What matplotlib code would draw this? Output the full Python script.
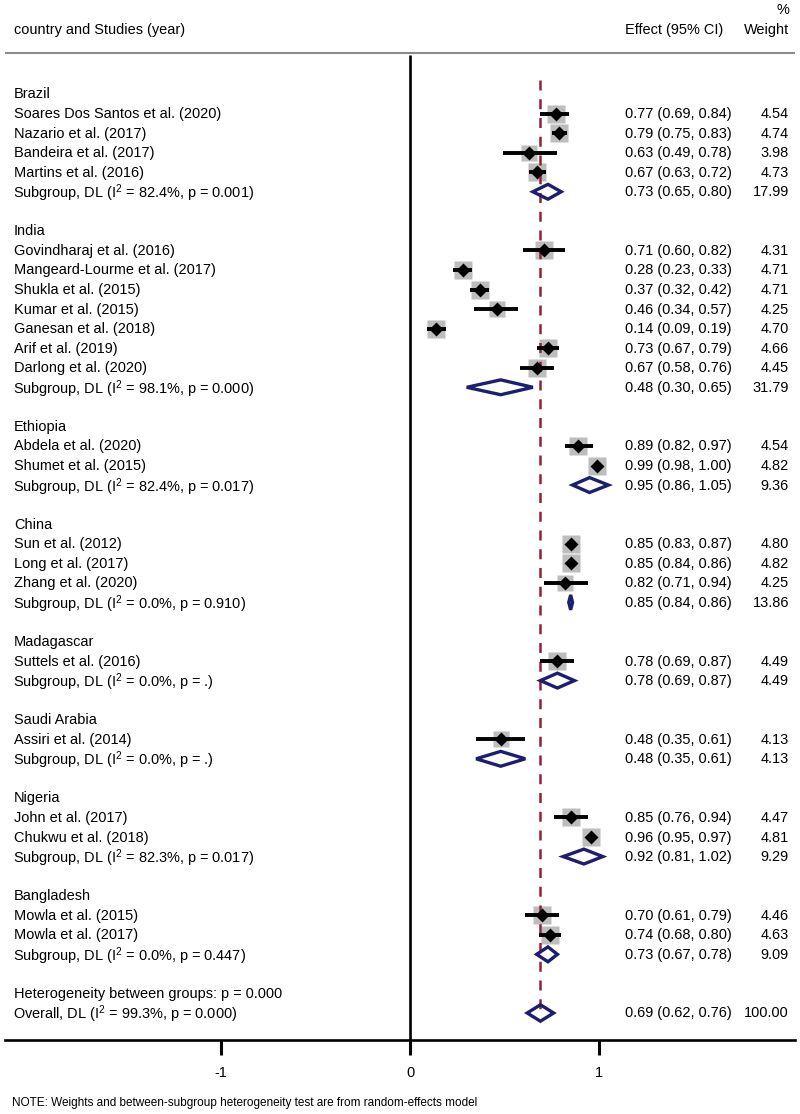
import numpy as np
import matplotlib
matplotlib.use("Agg")
import matplotlib.pyplot as plt

plt.rcParams['font.family'] = ['Liberation Sans', 'DejaVu Sans']
plt.rcParams['mathtext.fontset'] = 'custom'
plt.rcParams['mathtext.rm'] = 'Liberation Sans'
plt.rcParams['mathtext.it'] = 'Liberation Sans'

# ---- data ----
group_names = ["Brazil", "India", "Ethiopia", "China", "Madagascar",
               "Saudi Arabia", "Nigeria", "Bangladesh"]

study_names = [
    ["Soares Dos Santos et al. (2020)", "Nazario et al. (2017)",
     "Bandeira et al. (2017)", "Martins et al. (2016)"],
    ["Govindharaj et al. (2016)", "Mangeard-Lourme et al. (2017)",
     "Shukla et al. (2015)", "Kumar et al. (2015)", "Ganesan et al. (2018)",
     "Arif et al. (2019)", "Darlong et al. (2020)"],
    ["Abdela et al. (2020)", "Shumet et al. (2015)"],
    ["Sun et al. (2012)", "Long et al. (2017)", "Zhang et al. (2020)"],
    ["Suttels et al. (2016)"],
    ["Assiri et al. (2014)"],
    ["John et al. (2017)", "Chukwu et al. (2018)"],
    ["Mowla et al. (2015)", "Mowla et al. (2017)"],
]
study_es = [[0.77, 0.79, 0.63, 0.67],
            [0.71, 0.28, 0.37, 0.46, 0.14, 0.73, 0.67],
            [0.89, 0.99],
            [0.85, 0.85, 0.82],
            [0.78],
            [0.48],
            [0.85, 0.96],
            [0.70, 0.74]]
study_lo = [[0.69, 0.75, 0.49, 0.63],
            [0.60, 0.23, 0.32, 0.34, 0.09, 0.67, 0.58],
            [0.82, 0.98],
            [0.83, 0.84, 0.71],
            [0.69],
            [0.35],
            [0.76, 0.95],
            [0.61, 0.68]]
study_hi = [[0.84, 0.83, 0.78, 0.72],
            [0.82, 0.33, 0.42, 0.57, 0.19, 0.79, 0.76],
            [0.97, 1.00],
            [0.87, 0.86, 0.94],
            [0.87],
            [0.61],
            [0.94, 0.97],
            [0.79, 0.80]]
study_wt = [[4.54, 4.74, 3.98, 4.73],
            [4.31, 4.71, 4.71, 4.25, 4.70, 4.66, 4.45],
            [4.54, 4.82],
            [4.80, 4.82, 4.25],
            [4.49],
            [4.13],
            [4.47, 4.81],
            [4.46, 4.63]]

sub_stats = ["82.4%, p = 0.001", "98.1%, p = 0.000", "82.4%, p = 0.017",
             "0.0%, p = 0.910", "0.0%, p = .", "0.0%, p = .",
             "82.3%, p = 0.017", "0.0%, p = 0.447"]
sub_es = [0.73, 0.48, 0.95, 0.85, 0.78, 0.48, 0.92, 0.73]
sub_lo = [0.65, 0.30, 0.86, 0.84, 0.69, 0.35, 0.81, 0.67]
sub_hi = [0.80, 0.65, 1.05, 0.86, 0.87, 0.61, 1.02, 0.78]
sub_wt = [17.99, 31.79, 9.36, 13.86, 4.49, 4.13, 9.29, 9.09]

het_between = "Heterogeneity between groups: p = 0.000"
overall_stats = "99.3%, p = 0.000"
overall_es, overall_lo, overall_hi, overall_wt = 0.69, 0.62, 0.76, 100.00

x_ticks = [-1, 0, 1]
note = "NOTE: Weights and between-subgroup heterogeneity test are from random-effects model"

# ---- layout ----
W, H = 800, 1114
row_h = 19.553          # pixels per row
top_row_px = 94         # pixel y of first row
axis_px = 1040          # pixel y of x axis line
px_per_unit = 189.0
zero_px = 410.0

def xpx(p):
    return (p - zero_px) / px_per_unit

fs = 10.45
base = 0.23             # baseline offset (rows) below row centre
navy = "#1c1f6e"
dash_red = "#8e2335"
box_grey = "#bdbdbd"

fig = plt.figure(figsize=(W / 100, H / 100), dpi=100)
ax = fig.add_axes([5 / W, (H - axis_px) / H, 790 / W, axis_px / H])
ax.set_xlim(xpx(5), xpx(795))
y_bottom = (axis_px - top_row_px) / row_h
ax.set_ylim(y_bottom, -top_row_px / row_h)

for s in ["top", "left", "right"]:
    ax.spines[s].set_visible(False)
ax.spines["bottom"].set_linewidth(1.9)
ax.set_yticks([])
ax.set_xticks(x_ticks)
ax.set_xticklabels([str(t) for t in x_ticks], fontsize=fs)
ax.tick_params(axis="x", direction="out", length=11, width=2.2, pad=8)

x_label = xpx(14)
x_eff = xpx(625)
x_wt = xpx(789)

def put(x, y, s, ha="left", extra=0.0):
    ax.text(x, y + base + extra, s, fontsize=fs, va="baseline", ha=ha)

def diamond(es, lo, hi, y, half=0.38):
    ax.fill([lo, es, hi, es, lo], [y, y - half, y, y + half, y],
            facecolor="none", edgecolor=navy, linewidth=2.4,
            joinstyle="miter", zorder=5)

def i2_label(prefix, stats):
    return prefix + r" (I$^{\mathregular{2}}$ = " + stats + ")"

row = 0
for g in range(len(group_names)):
    put(x_label, row, group_names[g])
    row += 1
    for i in range(len(study_names[g])):
        es, lo, hi, w = study_es[g][i], study_lo[g][i], study_hi[g][i], study_wt[g][i]
        put(x_label, row, study_names[g][i])
        put(x_eff, row, f"{es:.2f} ({lo:.2f}, {hi:.2f})")
        put(x_wt, row, f"{w:.2f}", ha="right")
        ax.plot([es], [row], marker="s", ms=13.0 * np.sqrt(w / 4.8),
                color=box_grey, mec="none", zorder=2)
        ax.plot([lo, hi], [row, row], color="black", lw=2.8,
                solid_capstyle="butt", zorder=4)
        ax.plot([es], [row], marker="D", ms=7.2, color="black",
                mec="none", zorder=6)
        row += 1
    put(xpx(13), row, i2_label("Subgroup, DL", sub_stats[g]), extra=0.1)
    put(x_eff, row, f"{sub_es[g]:.2f} ({sub_lo[g]:.2f}, {sub_hi[g]:.2f})")
    put(x_wt, row, f"{sub_wt[g]:.2f}", ha="right")
    diamond(sub_es[g], sub_lo[g], sub_hi[g], row)
    row += 2

put(x_label, row, het_between)
row += 1
put(xpx(13), row, i2_label("Overall, DL", overall_stats), extra=0.1)
put(x_eff, row, f"{overall_es:.2f} ({overall_lo:.2f}, {overall_hi:.2f})")
put(x_wt, row, f"{overall_wt:.2f}", ha="right")
diamond(overall_es, overall_lo, overall_hi, row, half=0.42)

# reference dashed line at overall estimate
ax.vlines(overall_es, -0.7, row, colors=dash_red, linestyles=(0, (4.0, 3.5)),
          linewidth=1.8, zorder=3)

# header
head_line = (53 - top_row_px) / row_h
ax.hlines(head_line, xpx(5), xpx(795), colors="#8c8c8c", linewidth=1.5, clip_on=False)
ax.vlines(0, head_line + 0.1, y_bottom, colors="black", linewidth=1.9, zorder=1)
head_row = (30 - top_row_px) / row_h
put(x_label, head_row, "country and Studies (year)")
put(x_eff, head_row, "Effect (95% CI)")
put(x_wt, head_row, "Weight", ha="right")
put(x_wt, (10 - top_row_px) / row_h, "%", ha="right")

fig.text(12 / W, 1 - 1103 / H, note, fontsize=8.5, va="center", ha="left")

fig.savefig("out.png", dpi=100, facecolor="white")
